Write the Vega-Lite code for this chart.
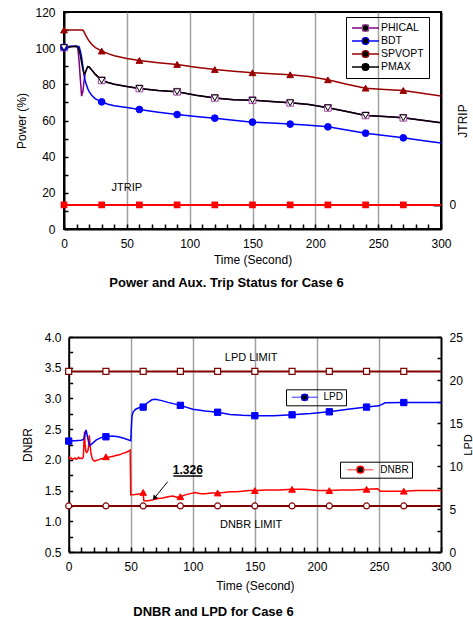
{
"$schema":"https://vega.github.io/schema/vega-lite/v6.json",
"background":"white",
"padding":{"left":14,"top":5,"right":0,"bottom":0},
"spacing":40,
"config":{
 "font":"Liberation Sans",
 "view":{"stroke":"black","strokeWidth":2},
 "axis":{"labelFont":"Liberation Sans","labelFontSize":12,"labelColor":"black","titleFont":"Liberation Sans","titleFontSize":12,"titleFontWeight":"normal","titleColor":"black","domainColor":"black","domainWidth":2,"tickColor":"black","tickWidth":1.5,"grid":false,"labelFlush":false,"labelOverlap":false},
 "legend":{"labelFont":"Liberation Sans","labelColor":"black"},
 "title":{"font":"Liberation Sans","color":"black"}
},
"datasets":{
 "power":[
  {"t":0,"series":"PHICAL","value":100.3},{"t":5,"series":"PHICAL","value":100.8},{"t":10,"series":"PHICAL","value":101},{"t":11,"series":"PHICAL","value":100},{"t":12,"series":"PHICAL","value":93},{"t":13,"series":"PHICAL","value":83},{"t":14,"series":"PHICAL","value":73.5},{"t":15,"series":"PHICAL","value":76},{"t":16,"series":"PHICAL","value":82},{"t":17,"series":"PHICAL","value":86.5},{"t":18,"series":"PHICAL","value":88.5},{"t":19,"series":"PHICAL","value":89.8},{"t":20,"series":"PHICAL","value":89.6},{"t":22,"series":"PHICAL","value":88},{"t":25,"series":"PHICAL","value":85.5},{"t":30,"series":"PHICAL","value":82.2},{"t":35,"series":"PHICAL","value":81},{"t":40,"series":"PHICAL","value":80},{"t":50,"series":"PHICAL","value":78.8},{"t":60,"series":"PHICAL","value":77.7},{"t":75,"series":"PHICAL","value":76.6},{"t":90,"series":"PHICAL","value":75.9},{"t":105,"series":"PHICAL","value":74},{"t":120,"series":"PHICAL","value":72.5},{"t":135,"series":"PHICAL","value":71.5},{"t":150,"series":"PHICAL","value":71.2},{"t":165,"series":"PHICAL","value":70.5},{"t":180,"series":"PHICAL","value":69.8},{"t":195,"series":"PHICAL","value":68.8},{"t":210,"series":"PHICAL","value":67},{"t":225,"series":"PHICAL","value":65},{"t":240,"series":"PHICAL","value":62.8},{"t":255,"series":"PHICAL","value":62.2},{"t":270,"series":"PHICAL","value":61.5},{"t":285,"series":"PHICAL","value":60.1},{"t":300,"series":"PHICAL","value":58.7},
  {"t":0,"series":"BDT","value":100.5},{"t":5,"series":"BDT","value":101},{"t":10,"series":"BDT","value":101},{"t":12,"series":"BDT","value":100.8},{"t":13,"series":"BDT","value":98.5},{"t":14,"series":"BDT","value":95},{"t":15,"series":"BDT","value":90},{"t":16,"series":"BDT","value":85},{"t":17,"series":"BDT","value":81.5},{"t":18,"series":"BDT","value":79.5},{"t":19,"series":"BDT","value":77.5},{"t":20,"series":"BDT","value":76},{"t":22,"series":"BDT","value":74},{"t":25,"series":"BDT","value":72},{"t":30,"series":"BDT","value":70.3},{"t":35,"series":"BDT","value":69},{"t":40,"series":"BDT","value":68.2},{"t":50,"series":"BDT","value":67.2},{"t":60,"series":"BDT","value":66.1},{"t":75,"series":"BDT","value":64.6},{"t":90,"series":"BDT","value":63.3},{"t":105,"series":"BDT","value":62.2},{"t":120,"series":"BDT","value":61.3},{"t":135,"series":"BDT","value":60.2},{"t":150,"series":"BDT","value":59.1},{"t":165,"series":"BDT","value":58.6},{"t":180,"series":"BDT","value":58},{"t":195,"series":"BDT","value":57.4},{"t":210,"series":"BDT","value":56.5},{"t":225,"series":"BDT","value":54.8},{"t":240,"series":"BDT","value":53},{"t":255,"series":"BDT","value":51.7},{"t":270,"series":"BDT","value":50.4},{"t":285,"series":"BDT","value":49},{"t":300,"series":"BDT","value":47.6},
  {"t":0,"series":"SPVOPT","value":110},{"t":5,"series":"SPVOPT","value":110},{"t":10,"series":"SPVOPT","value":110},{"t":15,"series":"SPVOPT","value":110},{"t":16,"series":"SPVOPT","value":109},{"t":17,"series":"SPVOPT","value":107.5},{"t":18,"series":"SPVOPT","value":106.3},{"t":19,"series":"SPVOPT","value":105},{"t":20,"series":"SPVOPT","value":104},{"t":22,"series":"SPVOPT","value":102.2},{"t":25,"series":"SPVOPT","value":100.3},{"t":30,"series":"SPVOPT","value":98.4},{"t":35,"series":"SPVOPT","value":97},{"t":40,"series":"SPVOPT","value":95.8},{"t":50,"series":"SPVOPT","value":94.3},{"t":60,"series":"SPVOPT","value":93.2},{"t":75,"series":"SPVOPT","value":92},{"t":90,"series":"SPVOPT","value":91},{"t":105,"series":"SPVOPT","value":89.5},{"t":120,"series":"SPVOPT","value":88.2},{"t":135,"series":"SPVOPT","value":87.2},{"t":150,"series":"SPVOPT","value":86.4},{"t":165,"series":"SPVOPT","value":85.8},{"t":180,"series":"SPVOPT","value":85.3},{"t":195,"series":"SPVOPT","value":84.3},{"t":210,"series":"SPVOPT","value":82.5},{"t":225,"series":"SPVOPT","value":80},{"t":240,"series":"SPVOPT","value":77.9},{"t":255,"series":"SPVOPT","value":77.2},{"t":270,"series":"SPVOPT","value":76.6},{"t":285,"series":"SPVOPT","value":75.1},{"t":300,"series":"SPVOPT","value":73.6},
  {"t":0,"series":"PMAX","value":100.3},{"t":5,"series":"PMAX","value":100.8},{"t":10,"series":"PMAX","value":101},{"t":11,"series":"PMAX","value":100.5},{"t":12,"series":"PMAX","value":99},{"t":13,"series":"PMAX","value":96},{"t":14,"series":"PMAX","value":92},{"t":15,"series":"PMAX","value":88.5},{"t":16,"series":"PMAX","value":86},{"t":17,"series":"PMAX","value":86.5},{"t":18,"series":"PMAX","value":88.5},{"t":19,"series":"PMAX","value":89.8},{"t":20,"series":"PMAX","value":89.6},{"t":22,"series":"PMAX","value":88},{"t":25,"series":"PMAX","value":85.5},{"t":30,"series":"PMAX","value":82.2},{"t":35,"series":"PMAX","value":81},{"t":40,"series":"PMAX","value":80},{"t":50,"series":"PMAX","value":78.8},{"t":60,"series":"PMAX","value":77.7},{"t":75,"series":"PMAX","value":76.6},{"t":90,"series":"PMAX","value":75.9},{"t":105,"series":"PMAX","value":74},{"t":120,"series":"PMAX","value":72.5},{"t":135,"series":"PMAX","value":71.5},{"t":150,"series":"PMAX","value":71.2},{"t":165,"series":"PMAX","value":70.5},{"t":180,"series":"PMAX","value":69.8},{"t":195,"series":"PMAX","value":68.8},{"t":210,"series":"PMAX","value":67},{"t":225,"series":"PMAX","value":65},{"t":240,"series":"PMAX","value":62.8},{"t":255,"series":"PMAX","value":62.2},{"t":270,"series":"PMAX","value":61.5},{"t":285,"series":"PMAX","value":60.1},{"t":300,"series":"PMAX","value":58.7}
 ],
 "jtrip":[{"t":0,"value":0},{"t":30,"value":0},{"t":60,"value":0},{"t":90,"value":0},{"t":120,"value":0},{"t":150,"value":0},{"t":180,"value":0},{"t":210,"value":0},{"t":240,"value":0},{"t":270,"value":0},{"t":300,"value":0}],
 "dnbrLimit":[{"t":0,"value":1.25},{"t":30,"value":1.25},{"t":60,"value":1.25},{"t":90,"value":1.25},{"t":120,"value":1.25},{"t":150,"value":1.25},{"t":180,"value":1.25},{"t":210,"value":1.25},{"t":240,"value":1.25},{"t":270,"value":1.25},{"t":300,"value":1.25}],
 "lpdLimit":[{"t":0,"value":21},{"t":30,"value":21},{"t":60,"value":21},{"t":90,"value":21},{"t":120,"value":21},{"t":150,"value":21},{"t":180,"value":21},{"t":210,"value":21},{"t":240,"value":21},{"t":270,"value":21},{"t":300,"value":21}],
 "dnbr":[
  {"t":0,"series":"DNBR","value":2.05},{"t":1,"series":"DNBR","value":2.02},{"t":2,"series":"DNBR","value":2.03},{"t":3,"series":"DNBR","value":2.01},{"t":4,"series":"DNBR","value":2.02},{"t":5,"series":"DNBR","value":2.03},{"t":6,"series":"DNBR","value":2.01},{"t":7,"series":"DNBR","value":2.02},{"t":8,"series":"DNBR","value":2.04},{"t":9,"series":"DNBR","value":2.02},{"t":10,"series":"DNBR","value":2.03},{"t":11,"series":"DNBR","value":2.02},{"t":11.8,"series":"DNBR","value":2.05},{"t":12.3,"series":"DNBR","value":2.3},{"t":12.8,"series":"DNBR","value":2.46},{"t":13.2,"series":"DNBR","value":2.25},{"t":13.8,"series":"DNBR","value":2.14},{"t":14.5,"series":"DNBR","value":2.12},{"t":15.5,"series":"DNBR","value":2.15},{"t":16,"series":"DNBR","value":2.22},{"t":16.6,"series":"DNBR","value":2.4},{"t":17.2,"series":"DNBR","value":2.25},{"t":18,"series":"DNBR","value":2.1},{"t":19,"series":"DNBR","value":2.02},{"t":20,"series":"DNBR","value":1.99},{"t":21,"series":"DNBR","value":1.98},{"t":22,"series":"DNBR","value":1.99},{"t":24,"series":"DNBR","value":2.0},{"t":26,"series":"DNBR","value":2.02},{"t":28,"series":"DNBR","value":2.02},{"t":30,"series":"DNBR","value":2.05},{"t":32,"series":"DNBR","value":2.04},{"t":34,"series":"DNBR","value":2.05},{"t":36,"series":"DNBR","value":2.06},{"t":38,"series":"DNBR","value":2.07},{"t":40,"series":"DNBR","value":2.08},{"t":42,"series":"DNBR","value":2.09},{"t":44,"series":"DNBR","value":2.11},{"t":46,"series":"DNBR","value":2.12},{"t":48,"series":"DNBR","value":2.14},{"t":49.5,"series":"DNBR","value":2.16},{"t":50,"series":"DNBR","value":1.43},{"t":52,"series":"DNBR","value":1.43},{"t":55,"series":"DNBR","value":1.44},{"t":58,"series":"DNBR","value":1.45},{"t":60,"series":"DNBR","value":1.47},{"t":60.5,"series":"DNBR","value":1.34},{"t":62,"series":"DNBR","value":1.33},{"t":65,"series":"DNBR","value":1.34},{"t":68,"series":"DNBR","value":1.35},{"t":72,"series":"DNBR","value":1.37},{"t":76,"series":"DNBR","value":1.38},{"t":80,"series":"DNBR","value":1.4},{"t":84,"series":"DNBR","value":1.41},{"t":87,"series":"DNBR","value":1.39},{"t":90,"series":"DNBR","value":1.4},{"t":94,"series":"DNBR","value":1.43},{"t":98,"series":"DNBR","value":1.45},{"t":102,"series":"DNBR","value":1.47},{"t":106,"series":"DNBR","value":1.45},{"t":110,"series":"DNBR","value":1.45},{"t":115,"series":"DNBR","value":1.46},{"t":120,"series":"DNBR","value":1.46},{"t":125,"series":"DNBR","value":1.47},{"t":130,"series":"DNBR","value":1.48},{"t":135,"series":"DNBR","value":1.48},{"t":140,"series":"DNBR","value":1.49},{"t":145,"series":"DNBR","value":1.5},{"t":150,"series":"DNBR","value":1.5},{"t":160,"series":"DNBR","value":1.51},{"t":170,"series":"DNBR","value":1.51},{"t":180,"series":"DNBR","value":1.52},{"t":190,"series":"DNBR","value":1.52},{"t":197,"series":"DNBR","value":1.51},{"t":200,"series":"DNBR","value":1.5},{"t":210,"series":"DNBR","value":1.5},{"t":220,"series":"DNBR","value":1.51},{"t":230,"series":"DNBR","value":1.51},{"t":240,"series":"DNBR","value":1.52},{"t":249,"series":"DNBR","value":1.53},{"t":251,"series":"DNBR","value":1.49},{"t":260,"series":"DNBR","value":1.49},{"t":270,"series":"DNBR","value":1.49},{"t":280,"series":"DNBR","value":1.5},{"t":290,"series":"DNBR","value":1.5},{"t":300,"series":"DNBR","value":1.5}
 ],
 "lpd":[
  {"t":0,"series":"LPD","value":12.9},{"t":5,"series":"LPD","value":12.95},{"t":10,"series":"LPD","value":13.0},{"t":12,"series":"LPD","value":13.1},{"t":13,"series":"LPD","value":13.6},{"t":14,"series":"LPD","value":14.2},{"t":15,"series":"LPD","value":13.5},{"t":16,"series":"LPD","value":12.8},{"t":17,"series":"LPD","value":12.4},{"t":19,"series":"LPD","value":12.6},{"t":22,"series":"LPD","value":13.0},{"t":26,"series":"LPD","value":13.3},{"t":30,"series":"LPD","value":13.4},{"t":35,"series":"LPD","value":13.5},{"t":40,"series":"LPD","value":13.4},{"t":45,"series":"LPD","value":13.2},{"t":50,"series":"LPD","value":12.95},{"t":50.5,"series":"LPD","value":14.5},{"t":51,"series":"LPD","value":15.8},{"t":52,"series":"LPD","value":16.3},{"t":54,"series":"LPD","value":16.6},{"t":57,"series":"LPD","value":16.8},{"t":60,"series":"LPD","value":16.85},{"t":63,"series":"LPD","value":17.3},{"t":67,"series":"LPD","value":17.7},{"t":70,"series":"LPD","value":17.75},{"t":75,"series":"LPD","value":17.6},{"t":80,"series":"LPD","value":17.4},{"t":90,"series":"LPD","value":17.05},{"t":100,"series":"LPD","value":16.6},{"t":110,"series":"LPD","value":16.4},{"t":120,"series":"LPD","value":16.25},{"t":130,"series":"LPD","value":16.0},{"t":140,"series":"LPD","value":15.9},{"t":150,"series":"LPD","value":15.85},{"t":165,"series":"LPD","value":15.85},{"t":180,"series":"LPD","value":15.95},{"t":195,"series":"LPD","value":16.1},{"t":210,"series":"LPD","value":16.3},{"t":225,"series":"LPD","value":16.6},{"t":240,"series":"LPD","value":16.85},{"t":250,"series":"LPD","value":17.0},{"t":255,"series":"LPD","value":17.35},{"t":270,"series":"LPD","value":17.38},{"t":285,"series":"LPD","value":17.38},{"t":300,"series":"LPD","value":17.38}
 ]
},
"vconcat":[
 {
  "width":377,"height":217,
  "title":{"text":"Power and Aux. Trip Status for Case 6","orient":"bottom","anchor":"middle","frame":"group","fontSize":13,"fontWeight":"bold","offset":12,"dx":-26},
  "layer":[
   {
    "layer":[
     {"data":{"name":"power"},
      "mark":{"type":"line","strokeWidth":1.5},
      "encoding":{
       "x":{"field":"t","type":"quantitative","scale":{"domain":[0,300],"nice":false},
        "axis":{"orient":"bottom","values":[0,10,20,30,40,50,60,70,80,90,100,110,120,130,140,150,160,170,180,190,200,210,220,230,240,250,260,270,280,290,300],"tickCount":100,"format":"d","labelExpr":"datum.value % 50 === 0 ? datum.label : ''","labelOverlap":false,"labelFlush":false,"tickSize":-5,"labelPadding":14,"title":"Time (Second)","titlePadding":5,"grid":true,"gridColor":"#A0A0A0","gridWidth":1.5,"gridOpacity":{"condition":{"test":"datum.value % 50 === 0 && datum.value > 0 && datum.value < 300","value":1},"value":0}}},
       "y":{"field":"value","type":"quantitative","scale":{"domain":[0,120],"nice":false},
        "axis":{"orient":"left","values":[0,10,20,30,40,50,60,70,80,90,100,110,120],"tickCount":100,"format":"d","labelExpr":"datum.value % 20 === 0 ? datum.label : ''","labelOverlap":false,"labelFlush":false,"tickSize":-4,"labelPadding":13,"title":"Power (%)","titlePadding":6}},
       "color":{"field":"series","type":"nominal","scale":{"domain":["PHICAL","BDT","SPVOPT","PMAX"],"range":["#800080","#0000FF","#990000","#000000"]},
        "legend":{"orient":"none","legendX":282,"legendY":5,"title":null,"symbolType":"stroke","symbolSize":729,"symbolStrokeWidth":1.5,"labelFontSize":10.5,"labelOffset":1,"padding":5,"strokeColor":"black","clipHeight":12,"rowPadding":1}}
      }},
     {"data":{"name":"power"},
      "transform":[{"filter":"datum.t % 30 === 0 && datum.t < 300"}],
      "mark":{"type":"point","size":45,"opacity":1,"strokeWidth":1},
      "encoding":{
       "x":{"field":"t","type":"quantitative"},
       "y":{"field":"value","type":"quantitative"},
       "shape":{"field":"series","type":"nominal","sort":["PHICAL","BDT","SPVOPT","PMAX"],"scale":{"range":["square","circle","triangle-up","triangle-down"]},
        "legend":{"orient":"none","legendX":282,"legendY":5,"title":null,"symbolSize":45,"symbolStrokeWidth":1.2,"symbolOffset":9.25,"labelOpacity":0,"labelLimit":8,"labelOffset":64,"labelFontSize":10.5,"padding":5,"clipHeight":12,"rowPadding":1}},
       "fill":{"field":"series","type":"nominal","sort":["PHICAL","BDT","SPVOPT","PMAX"],"scale":{"range":["#FFFFFF","#0000FF","#990000","#FFFFFF"]},
        "legend":{"orient":"none","legendX":282,"legendY":5,"title":null,"symbolSize":45,"symbolStrokeWidth":1.2,"symbolOffset":9.25,"labelOpacity":0,"labelLimit":8,"labelOffset":64,"labelFontSize":10.5,"padding":5,"clipHeight":12,"rowPadding":1}},
       "stroke":{"field":"series","type":"nominal","sort":["PHICAL","BDT","SPVOPT","PMAX"],"scale":{"range":["#A040A0","#0000FF","#990000","#000000"]},
        "legend":{"orient":"none","legendX":282,"legendY":5,"title":null,"symbolSize":45,"symbolStrokeWidth":1.2,"symbolOffset":9.25,"labelOpacity":0,"labelLimit":8,"labelOffset":64,"labelFontSize":10.5,"padding":5,"clipHeight":12,"rowPadding":1}}
      }},
     {"data":{"values":[{"t":50,"value":22.7,"label":"JTRIP"}]},
      "mark":{"type":"text","fontSize":11,"font":"Liberation Sans","color":"black"},
      "encoding":{
       "x":{"field":"t","type":"quantitative"},
       "y":{"field":"value","type":"quantitative"},
       "text":{"field":"label"}
      }}
    ]
   },
   {
    "data":{"name":"jtrip"},
    "layer":[
     {"mark":{"type":"line","color":"#FF0000","strokeWidth":2},
      "encoding":{
       "x":{"field":"t","type":"quantitative"},
       "y":{"field":"value","type":"quantitative","scale":{"domain":[-1,8],"nice":false},
        "axis":{"orient":"right","values":[0],"tickCount":100,"format":"d","labelOverlap":false,"labelFlush":false,"tickSize":-8,"tickWidth":2,"labelPadding":16,"title":"JTRIP","titleAngle":-90,"titleBaseline":"top","titlePadding":2}}
      }},
     {"transform":[{"filter":"datum.t < 300"}],
      "mark":{"type":"square","color":"#FF0000","size":45,"opacity":1},
      "encoding":{
       "x":{"field":"t","type":"quantitative"},
       "y":{"field":"value","type":"quantitative"}
      }}
    ]
   }
  ],
  "resolve":{"scale":{"y":"independent"}}
 },
 {
  "width":377,"height":215,
  "view":{"stroke":null},
  "title":{"text":"DNBR and LPD for Case 6","orient":"bottom","anchor":"middle","frame":"group","fontSize":13,"fontWeight":"bold","offset":15,"dx":-39},
  "layer":[
   {
    "layer":[
     {"data":{"name":"dnbrLimit"},
      "mark":{"type":"line","color":"#800000","strokeWidth":2},
      "encoding":{
       "x":{"field":"t","type":"quantitative","scale":{"domain":[0,300],"range":[4.7,377],"nice":false},
        "axis":{"orient":"bottom","values":[0,10,20,30,40,50,60,70,80,90,100,110,120,130,140,150,160,170,180,190,200,210,220,230,240,250,260,270,280,290,300],"tickCount":100,"format":"d","labelExpr":"datum.value % 50 === 0 ? datum.label : ''","labelOverlap":false,"labelFlush":false,"tickSize":-5,"labelPadding":14,"title":"Time (Second)","titlePadding":8,"grid":true,"gridColor":"#A0A0A0","gridWidth":1.5,"gridOpacity":{"condition":{"test":"datum.value % 50 === 0 && datum.value > 0 && datum.value < 300","value":1},"value":0}}},
       "y":{"field":"value","type":"quantitative","scale":{"domain":[0.5,4],"nice":false},
        "axis":{"orient":"left","values":[0.5,0.75,1,1.25,1.5,1.75,2,2.25,2.5,2.75,3,3.25,3.5,3.75,4],"tickCount":100,"labelExpr":"(datum.value * 4) % 2 === 0 ? format(datum.value, '.1f') : ''","labelOverlap":false,"labelFlush":false,"tickSize":-4,"labelPadding":11.7,"offset":-4.7,"title":"DNBR","titlePadding":10}}
      }},
     {"data":{"name":"dnbrLimit"},
      "transform":[{"filter":"datum.t < 300"}],
      "mark":{"type":"point","shape":"circle","size":36,"filled":true,"fill":"white","stroke":"#800000","strokeWidth":1.2,"opacity":1},
      "encoding":{
       "x":{"field":"t","type":"quantitative"},
       "y":{"field":"value","type":"quantitative"}
      }},
     {"data":{"name":"dnbr"},
      "mark":{"type":"line","strokeWidth":1.5},
      "encoding":{
       "x":{"field":"t","type":"quantitative"},
       "y":{"field":"value","type":"quantitative"},
       "color":{"field":"series","type":"nominal","scale":{"domain":["DNBR"],"range":["#FF0000"]},
        "legend":{"orient":"none","legendX":276,"legendY":124.7,"title":null,"symbolType":"stroke","symbolSize":676,"symbolStrokeWidth":1.5,"symbolOpacity":0.55,"symbolOffset":3.35,"labelFontSize":10,"labelOffset":6,"padding":3,"strokeColor":"black","clipHeight":10}}
      }},
     {"data":{"name":"dnbr"},
      "transform":[{"filter":"datum.t % 30 === 0 && datum.t > 0 && datum.t < 300"}],
      "mark":{"type":"point","size":45,"opacity":1,"strokeWidth":1},
      "encoding":{
       "x":{"field":"t","type":"quantitative"},
       "y":{"field":"value","type":"quantitative"},
       "shape":{"field":"series","type":"nominal","sort":["DNBR"],"scale":{"range":["triangle-up"]},
        "legend":{"orient":"none","legendX":276,"legendY":124.7,"title":null,"symbolSize":45,"symbolOffset":12.35,"labelOpacity":0,"labelLimit":8,"labelOffset":55,"labelFontSize":10,"padding":3,"clipHeight":10}},
       "fill":{"field":"series","type":"nominal","sort":["DNBR"],"scale":{"range":["#FF0000"]},
        "legend":{"orient":"none","legendX":276,"legendY":124.7,"title":null,"symbolSize":45,"symbolOffset":12.35,"labelOpacity":0,"labelLimit":8,"labelOffset":55,"labelFontSize":10,"padding":3,"clipHeight":10}},
       "stroke":{"field":"series","type":"nominal","sort":["DNBR"],"scale":{"range":["#FF0000"]},
        "legend":{"orient":"none","legendX":276,"legendY":124.7,"title":null,"symbolSize":45,"symbolOffset":12.35,"labelOpacity":0,"labelLimit":8,"labelOffset":55,"labelFontSize":10,"padding":3,"clipHeight":10}}
      }},
     {"data":{"values":[{"t":147,"value":0.935,"label":"DNBR LIMIT"}]},
      "mark":{"type":"text","fontSize":11,"font":"Liberation Sans","color":"black"},
      "encoding":{
       "x":{"field":"t","type":"quantitative"},
       "y":{"field":"value","type":"quantitative"},
       "text":{"field":"label"}
      }},
     {"data":{"values":[{"t":96,"value":1.83,"label":"1.326"}]},
      "mark":{"type":"text","fontSize":12,"fontWeight":"bold","font":"Liberation Sans","color":"black"},
      "encoding":{
       "x":{"field":"t","type":"quantitative"},
       "y":{"field":"value","type":"quantitative"},
       "text":{"field":"label"}
      }},
     {"data":{"values":[{"t":84.3,"t2":107.7,"value":1.737}]},
      "mark":{"type":"rule","color":"black","strokeWidth":1.5},
      "encoding":{
       "x":{"field":"t","type":"quantitative"},
       "x2":{"field":"t2"},
       "y":{"field":"value","type":"quantitative"}
      }},
     {"data":{"values":[{"t":79.8,"t2":68.5,"value":1.645,"value2":1.365}]},
      "mark":{"type":"rule","color":"black","strokeWidth":1},
      "encoding":{
       "x":{"field":"t","type":"quantitative"},
       "x2":{"field":"t2"},
       "y":{"field":"value","type":"quantitative"},
       "y2":{"field":"value2"}
      }},
     {"data":{"values":[{"t":69,"value":1.378}]},
      "mark":{"type":"point","shape":"triangle-up","angle":219,"size":30,"filled":true,"color":"black","opacity":1},
      "encoding":{
       "x":{"field":"t","type":"quantitative"},
       "y":{"field":"value","type":"quantitative"}
      }}
    ]
   },
   {
    "layer":[
     {"data":{"name":"lpdLimit"},
      "mark":{"type":"line","color":"#800000","strokeWidth":2},
      "encoding":{
       "x":{"field":"t","type":"quantitative","axis":{"orient":"top","labels":false,"ticks":false,"grid":false,"title":null}},
       "y":{"field":"value","type":"quantitative","scale":{"domain":[0,25],"nice":false},
        "axis":{"orient":"right","values":[0,2.5,5,7.5,10,12.5,15,17.5,20,22.5,25],"tickCount":100,"format":"d","labelExpr":"datum.value % 5 === 0 ? datum.label : ''","labelOverlap":false,"labelFlush":false,"tickSize":-4,"labelPadding":12,"title":"LPD","titleAngle":-90,"titleBaseline":"top","titlePadding":0,"titleFontSize":11}}
      }},
     {"data":{"name":"lpdLimit"},
      "transform":[{"filter":"datum.t < 300"}],
      "mark":{"type":"point","shape":"square","size":36,"filled":true,"fill":"white","stroke":"#800000","strokeWidth":1.2,"opacity":1},
      "encoding":{
       "x":{"field":"t","type":"quantitative"},
       "y":{"field":"value","type":"quantitative"}
      }},
     {"data":{"name":"lpd"},
      "mark":{"type":"line","strokeWidth":1.5},
      "encoding":{
       "x":{"field":"t","type":"quantitative"},
       "y":{"field":"value","type":"quantitative"},
       "color":{"field":"series","type":"nominal","scale":{"domain":["LPD"],"range":["#0000FF"]},
        "legend":{"orient":"none","legendX":222,"legendY":52.3,"title":null,"symbolType":"stroke","symbolSize":676,"symbolStrokeWidth":1.5,"symbolOpacity":0.55,"symbolOffset":1.7,"labelFontSize":10,"labelOffset":4.7,"padding":3,"strokeColor":"black","clipHeight":10}}
      }},
     {"data":{"name":"lpd"},
      "transform":[{"filter":"datum.t % 30 === 0 && datum.t < 300"}],
      "mark":{"type":"point","size":40,"opacity":1,"strokeWidth":1},
      "encoding":{
       "x":{"field":"t","type":"quantitative"},
       "y":{"field":"value","type":"quantitative"},
       "shape":{"field":"series","type":"nominal","sort":["LPD"],"scale":{"range":["square"]},
        "legend":{"orient":"none","legendX":222,"legendY":52.3,"title":null,"symbolSize":40,"symbolOffset":10.7,"labelOpacity":0,"labelLimit":8,"labelOffset":50,"labelFontSize":10,"padding":3,"clipHeight":10}},
       "fill":{"field":"series","type":"nominal","sort":["LPD"],"scale":{"range":["#0000FF"]},
        "legend":{"orient":"none","legendX":222,"legendY":52.3,"title":null,"symbolSize":40,"symbolOffset":10.7,"labelOpacity":0,"labelLimit":8,"labelOffset":50,"labelFontSize":10,"padding":3,"clipHeight":10}},
       "stroke":{"field":"series","type":"nominal","sort":["LPD"],"scale":{"range":["#0000FF"]},
        "legend":{"orient":"none","legendX":222,"legendY":52.3,"title":null,"symbolSize":40,"symbolOffset":10.7,"labelOpacity":0,"labelLimit":8,"labelOffset":50,"labelFontSize":10,"padding":3,"clipHeight":10}}
      }},
     {"data":{"values":[{"t":147,"value":22.6,"label":"LPD LIMIT"}]},
      "mark":{"type":"text","fontSize":11,"font":"Liberation Sans","color":"black"},
      "encoding":{
       "x":{"field":"t","type":"quantitative"},
       "y":{"field":"value","type":"quantitative"},
       "text":{"field":"label"}
      }}
    ]
   }
  ],
  "resolve":{"scale":{"y":"independent","color":"independent","shape":"independent","fill":"independent","stroke":"independent"}}
 }
]
}
